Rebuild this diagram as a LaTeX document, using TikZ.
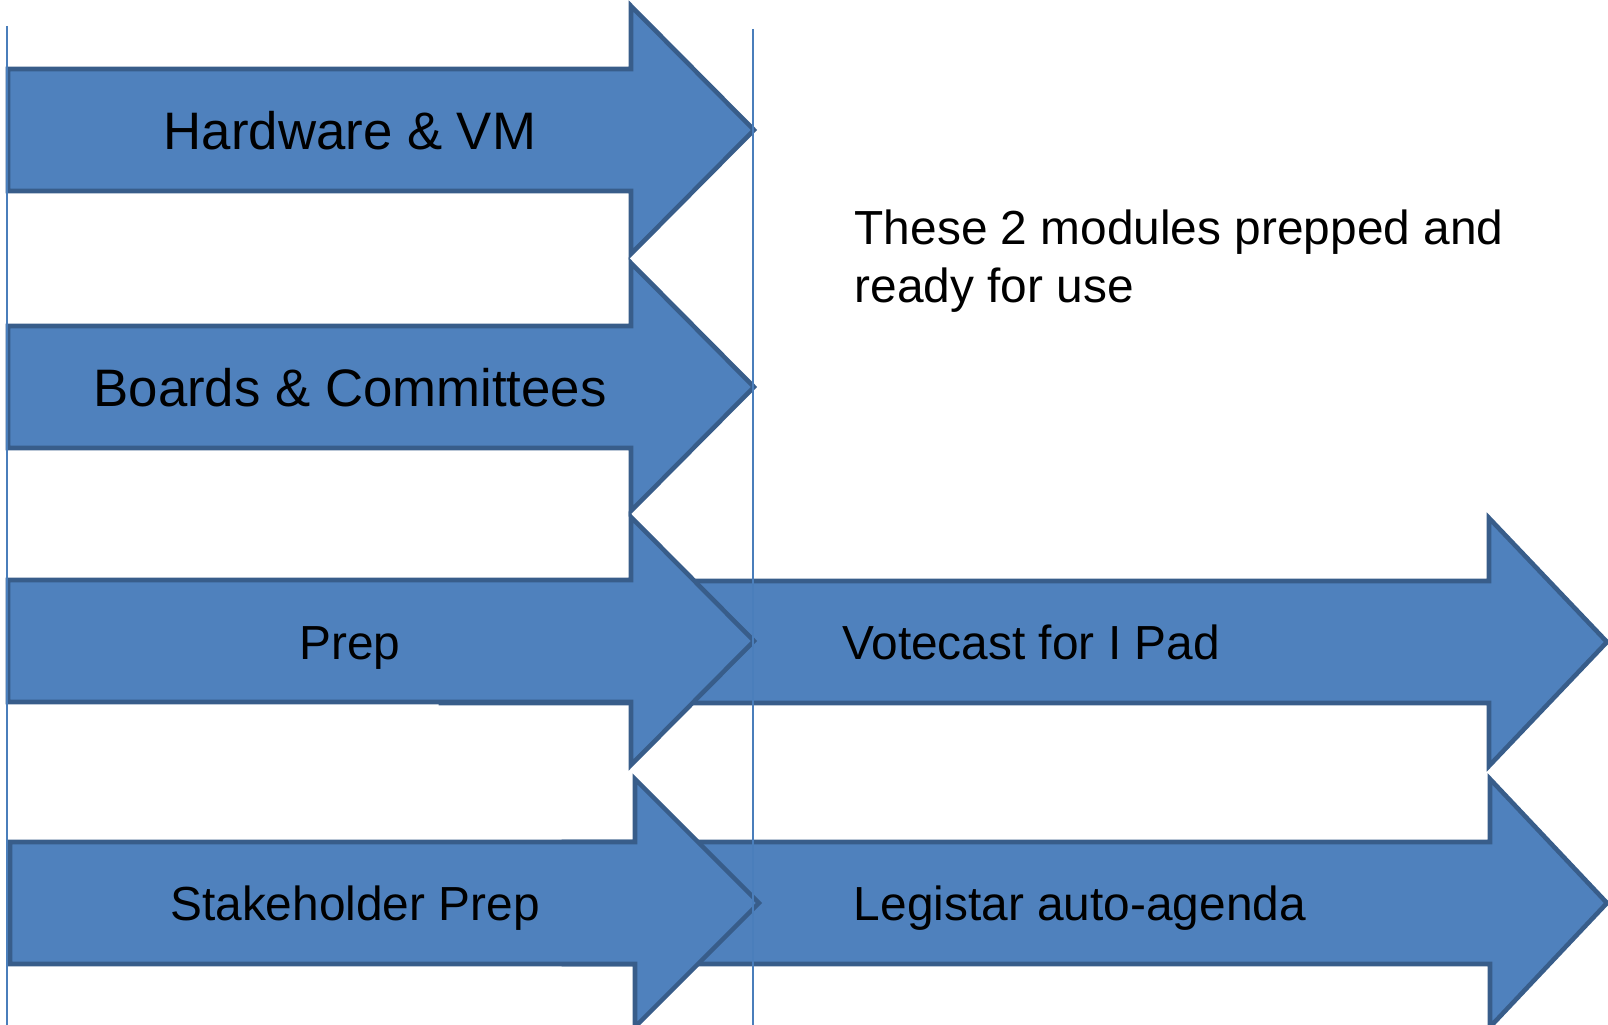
\documentclass[tikz,border=0pt]{standalone}
\usepackage{fontspec}
\setmainfont{Liberation Sans}
\definecolor{arrowfill}{HTML}{4F81BD}
\definecolor{arrowline}{HTML}{385D8A}
\definecolor{guideblue}{HTML}{4A7EBB}

\begin{document}
\begin{tikzpicture}[x=0.01cm,y=-0.01cm,
		blockarrow/.style={fill=arrowfill,draw=arrowline,line width=1.3pt,line join=miter},
		arrowtext/.style={font=\fontsize{15}{18}\selectfont,anchor=base,inner sep=0pt},
		smalltext/.style={arrowtext,font=\fontsize{13.6}{16.6}\selectfont},
		guide/.style={draw=guideblue,line width=0.45pt}]
		\useasboundingbox (0,0) rectangle (1608,1025);
		% start / head / tip / middle
		\foreach \xs/\xh/\xt/\yc in {441/1489/1607/642,564/1490/1607/903,8/631/754/130,8/631/754/387,8/631/754/641,10/635/759/903}
			\path[blockarrow] (\xs,\yc-61) -- (\xh,\yc-61) -- (\xh,\yc-124) -- (\xt,\yc) -- (\xh,\yc+124) -- (\xh,\yc+61) -- (\xs,\yc+61) -- cycle;
		\coordinate (starttop) at (7,26);
		\coordinate (startbot) at (7,1025);
		\coordinate (readytop) at (753,29);
		\coordinate (readybot) at (753,1025);
		\draw[guide] (starttop) -- (startbot);
		\draw[guide] (readytop) -- (readybot);
		\node[arrowtext] (hw) at (350,150) {Hardware \& VM};
		\node[arrowtext] (boards) at (350,407) {Boards \& Committees};
		\node[smalltext] (prep) at (350,660) {Prep};
		\node[smalltext] (stake) at (355,921) {Stakeholder Prep};
		\node[smalltext] (votecast) at (1031,660) {Votecast for I Pad};
		\node[smalltext] (legistar) at (1080,921) {Legistar auto-agenda};
		\node[font=\fontsize{13.6}{16.6}\selectfont,align=left,anchor=north west,inner sep=0pt] (ready) at (854,209) {These 2 modules prepped and\\ready for use};
	\end{tikzpicture}
\end{document}
